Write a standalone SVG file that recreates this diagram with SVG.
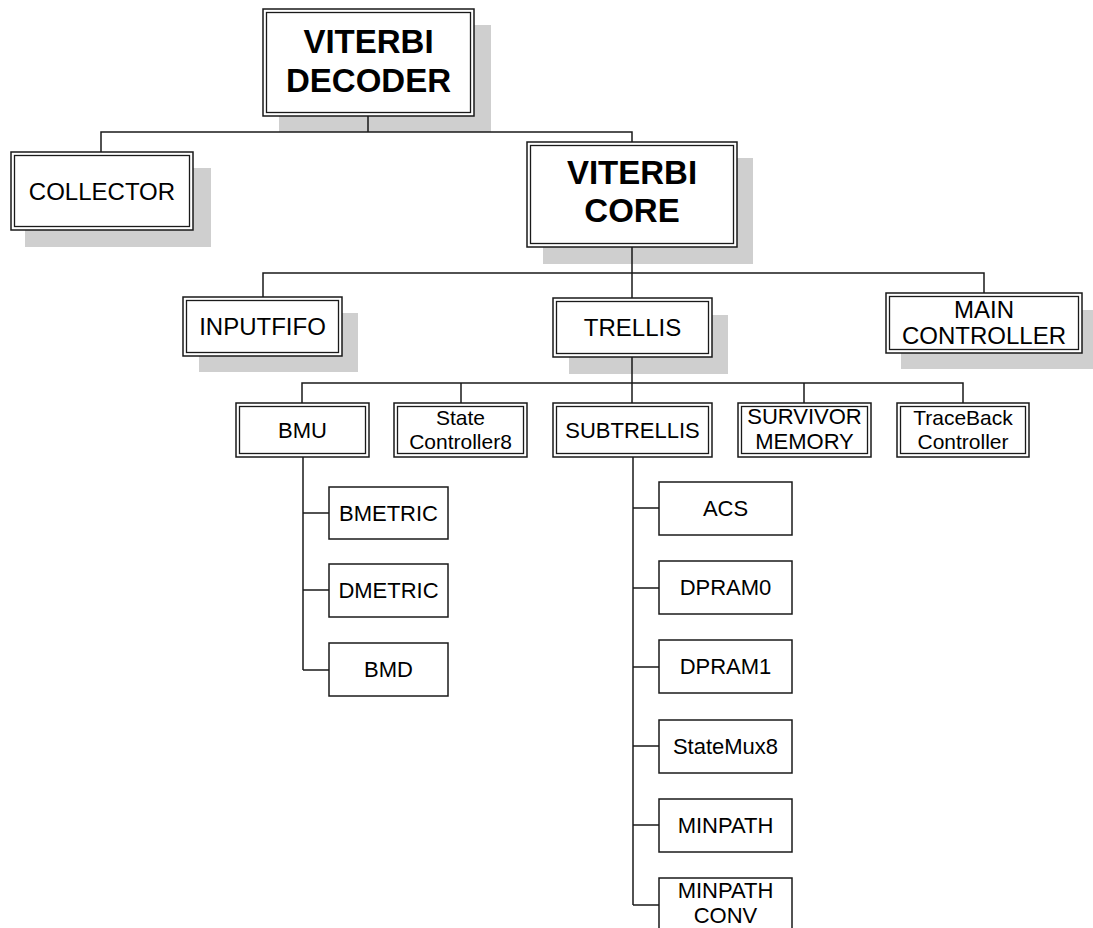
<svg xmlns="http://www.w3.org/2000/svg" width="1093" height="928" viewBox="0 0 1093 928">
  <style>
    .shadow { fill: #cfcfcf; stroke: none; }
    .frame { fill: #ffffff; stroke: #1a1a1a; stroke-width: 1.5; }
    .inner { fill: none; stroke: #1a1a1a; stroke-width: 1.3; }
    .leaf { fill: #ffffff; stroke: #1a1a1a; stroke-width: 1.5; }
    .wire { fill: none; stroke: #1a1a1a; stroke-width: 1.5; }
    text { font-family: "Liberation Sans", Arial, sans-serif; fill: #000; text-anchor: middle; }
    .big { font-size: 33px; font-weight: bold; }
    .mid { font-size: 24px; }
    .sm { font-size: 22px; }
  </style>
  <rect width="1093" height="928" fill="#ffffff"/>

  <!-- drop shadows -->
  <g id="shadows">
    <rect class="shadow" x="279" y="25" width="212" height="107"/>
    <rect class="shadow" x="25" y="168" width="186" height="79"/>
    <rect class="shadow" x="543" y="158" width="210" height="106"/>
    <rect class="shadow" x="199" y="313" width="159" height="59"/>
    <rect class="shadow" x="569" y="315" width="159" height="59"/>
    <rect class="shadow" x="901" y="310" width="192" height="59"/>
  </g>

  <!-- connectors -->
  <g id="connectors">
    <path class="wire" d="M368 116 V132 M101 152 V132 H632 V142"/>
    <path class="wire" d="M632 247 V403 M263 297 V273 H984 V293"/>
    <path class="wire" d="M302 403 V383 H963 V403 M461 383 V403 M804 383 V403"/>
    <path class="wire" d="M303 457 V670 M303 513 H329 M303 590 H329 M303 670 H329"/>
    <path class="wire" d="M633 457 V905 M633 508 H659 M633 588 H659 M633 667 H659 M633 746 H659 M633 825 H659 M633 905 H659"/>
  </g>

  <g id="viterbi-decoder">
    <rect class="frame" x="263" y="9" width="211" height="107"/>
    <rect class="inner" x="266.5" y="12.5" width="204" height="100"/>
    <text class="big" x="368.5" y="53">VITERBI</text>
    <text class="big" x="368.5" y="92">DECODER</text>
  </g>

  <g id="collector">
    <rect class="frame" x="11" y="152" width="182" height="78"/>
    <rect class="inner" x="14.5" y="155.5" width="175" height="71"/>
    <text class="mid" x="102" y="199.5">COLLECTOR</text>
  </g>

  <g id="viterbi-core">
    <rect class="frame" x="527" y="142" width="210" height="105"/>
    <rect class="inner" x="530.5" y="145.5" width="203" height="98"/>
    <text class="big" x="632" y="184">VITERBI</text>
    <text class="big" x="632" y="222">CORE</text>
  </g>

  <g id="inputfifo">
    <rect class="frame" x="183" y="297" width="159" height="59"/>
    <rect class="inner" x="186.5" y="300.5" width="152" height="52"/>
    <text class="mid" x="262.5" y="335">INPUTFIFO</text>
  </g>

  <g id="trellis">
    <rect class="frame" x="553" y="298" width="159" height="59"/>
    <rect class="inner" x="556.5" y="301.5" width="152" height="52"/>
    <text class="mid" x="632.5" y="336">TRELLIS</text>
  </g>

  <g id="main-controller">
    <rect class="frame" x="886" y="293" width="196" height="60"/>
    <rect class="inner" x="889.5" y="296.5" width="189" height="53"/>
    <text class="mid" x="984" y="318">MAIN</text>
    <text class="mid" x="984" y="344">CONTROLLER</text>
  </g>

  <g id="bmu">
    <rect class="frame" x="236" y="403" width="133" height="54"/>
    <rect class="inner" x="239.5" y="406.5" width="126" height="47"/>
    <text class="sm" x="302.5" y="438">BMU</text>
  </g>

  <g id="state-controller8">
    <rect class="frame" x="394" y="403" width="133" height="54"/>
    <rect class="inner" x="397.5" y="406.5" width="126" height="47"/>
    <text class="sm" x="460.5" y="425" style="font-size:21px">State</text>
    <text class="sm" x="460.5" y="449" style="font-size:21px">Controller8</text>
  </g>

  <g id="subtrellis">
    <rect class="frame" x="553" y="403" width="159" height="54"/>
    <rect class="inner" x="556.5" y="406.5" width="152" height="47"/>
    <text class="sm" x="632.5" y="438">SUBTRELLIS</text>
  </g>

  <g id="survivor-memory">
    <rect class="frame" x="738" y="403" width="133" height="54"/>
    <rect class="inner" x="741.5" y="406.5" width="126" height="47"/>
    <text class="sm" x="804.5" y="424">SURVIVOR</text>
    <text class="sm" x="804.5" y="449">MEMORY</text>
  </g>

  <g id="traceback-controller">
    <rect class="frame" x="897" y="403" width="132" height="54"/>
    <rect class="inner" x="900.5" y="406.5" width="125" height="47"/>
    <text class="sm" x="963" y="425" style="font-size:21px">TraceBack</text>
    <text class="sm" x="963" y="449" style="font-size:21px">Controller</text>
  </g>

  <g id="bmetric">
    <rect class="leaf" x="329" y="487" width="119" height="52"/>
    <text class="sm" x="388.5" y="521">BMETRIC</text>
  </g>
  <g id="dmetric">
    <rect class="leaf" x="329" y="564" width="119" height="53"/>
    <text class="sm" x="388.5" y="598">DMETRIC</text>
  </g>
  <g id="bmd">
    <rect class="leaf" x="329" y="643" width="119" height="53"/>
    <text class="sm" x="388.5" y="677">BMD</text>
  </g>

  <g id="acs">
    <rect class="leaf" x="659" y="482" width="133" height="53"/>
    <text class="sm" x="725.5" y="516">ACS</text>
  </g>
  <g id="dpram0">
    <rect class="leaf" x="659" y="561" width="133" height="53"/>
    <text class="sm" x="725.5" y="595">DPRAM0</text>
  </g>
  <g id="dpram1">
    <rect class="leaf" x="659" y="640" width="133" height="53"/>
    <text class="sm" x="725.5" y="674">DPRAM1</text>
  </g>
  <g id="statemux8">
    <rect class="leaf" x="659" y="720" width="133" height="53"/>
    <text class="sm" x="725.5" y="754">StateMux8</text>
  </g>
  <g id="minpath">
    <rect class="leaf" x="659" y="799" width="133" height="53"/>
    <text class="sm" x="725.5" y="833">MINPATH</text>
  </g>
  <g id="minpath-conv">
    <rect class="leaf" x="659" y="878" width="133" height="53"/>
    <text class="sm" x="725.5" y="898">MINPATH</text>
    <text class="sm" x="725.5" y="923">CONV</text>
  </g>
</svg>
